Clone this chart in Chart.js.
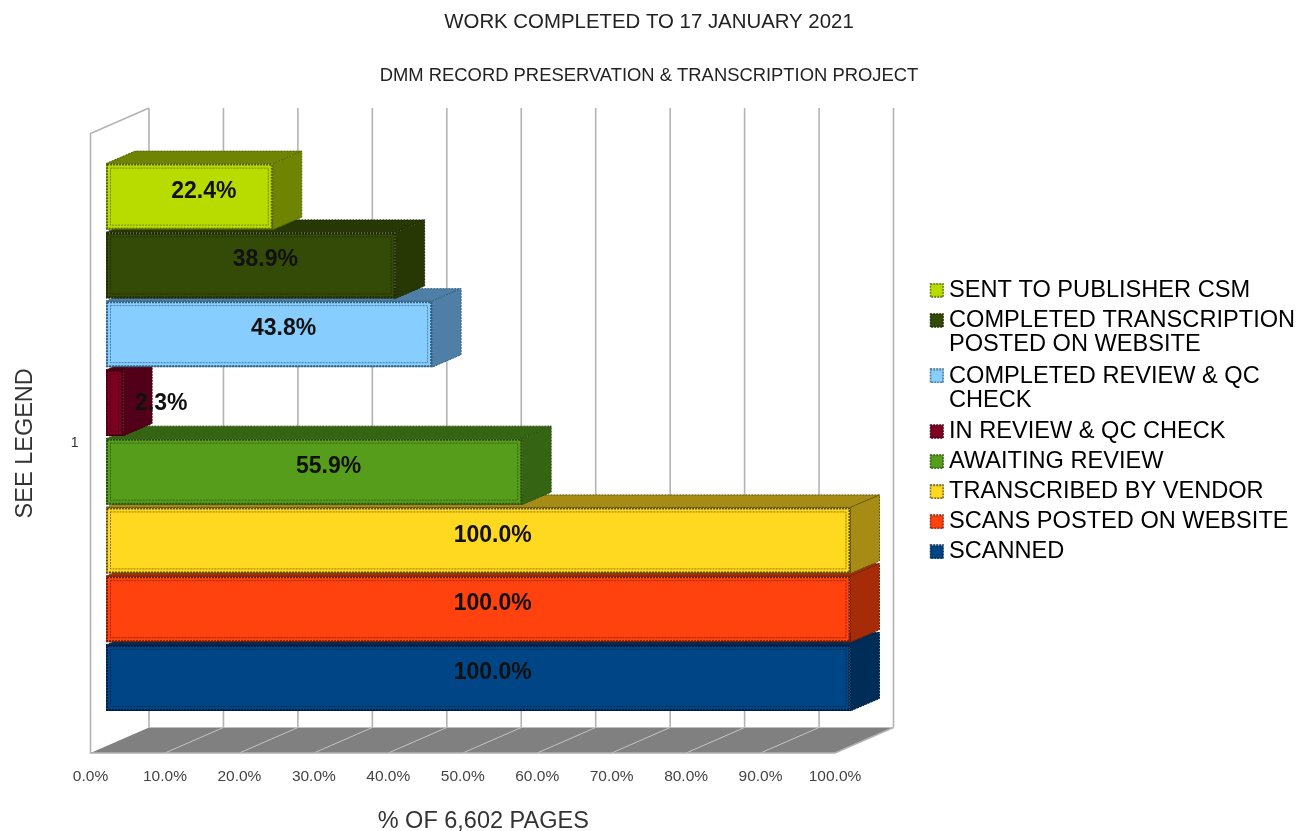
<!DOCTYPE html>
<html>
<head>
<meta charset="utf-8">
<style>html,body{margin:0;padding:0;background:#fff}canvas{display:block}</style>
<script src="https://cdn.jsdelivr.net/npm/chart.js@4"></script>
</head>
<body>
<canvas id="c" width="1298" height="831"></canvas>
<script>
const categories = ['1'];
const seriesNames = ['SENT TO PUBLISHER CSM','COMPLETED TRANSCRIPTION POSTED ON WEBSITE','COMPLETED REVIEW & QC CHECK','IN REVIEW & QC CHECK','AWAITING REVIEW','TRANSCRIBED BY VENDOR','SCANS POSTED ON WEBSITE','SCANNED'];
const legendLines = [['SENT TO PUBLISHER CSM'],['COMPLETED TRANSCRIPTION','POSTED ON WEBSITE'],['COMPLETED REVIEW & QC','CHECK'],['IN REVIEW & QC CHECK'],['AWAITING REVIEW'],['TRANSCRIBED BY VENDOR'],['SCANS POSTED ON WEBSITE'],['SCANNED']];
const seriesValues = [22.4,38.9,43.8,2.3,55.9,100,100,100];
const frontColors = ['#b9dc00','#344a07','#87ceff','#7e0021','#579d1c','#ffd820','#ff420e','#004586'];
const sideColors  = ['#6f8400','#283804','#4f7ea6','#52001a','#356512','#a68c14','#a62c09','#002d57'];
const edgeColors  = ['#55660a','#1c2703','#30607f','#3f0012','#2a5010','#5f5008','#6f1d05','#001f40'];
const titleText = 'WORK COMPLETED TO 17 JANUARY 2021';
const subtitleText = 'DMM RECORD PRESERVATION & TRANSCRIPTION PROJECT';
const xAxisTitle = '% OF 6,602 PAGES';
const yAxisTitle = 'SEE LEGEND';

const FONT = '"Liberation Sans", Arial, sans-serif';
const WALL = {dx:58.5, dy:-25.5};
const BAR_SHIFT = {dx:15.5, dy:-6};
const DEPTH = {dx:29, dy:-12.5};

function swatch(fill, edge){
  const c = document.createElement('canvas'); c.width = 15; c.height = 15;
  const g = c.getContext('2d');
  g.fillStyle = fill; g.fillRect(1,1,13,13);
  g.strokeStyle = edge; g.setLineDash([2,1]); g.lineWidth = 1.5; g.strokeRect(1,1,13,13);
  return c;
}

const scene = {
  id:'scene',
  beforeDatasetsDraw(chart){
    const {ctx, chartArea:a, scales:{x}} = chart;
    ctx.save();
    ctx.fillStyle = '#808080';
    ctx.beginPath();
    ctx.moveTo(a.left,a.bottom); ctx.lineTo(a.left+WALL.dx,a.bottom+WALL.dy);
    ctx.lineTo(a.right+WALL.dx,a.bottom+WALL.dy); ctx.lineTo(a.right,a.bottom); ctx.closePath(); ctx.fill();
    ctx.strokeStyle = '#c4c4c4'; ctx.lineWidth = 1;
    x.ticks.forEach(t=>{
      const p = x.getPixelForValue(t.value);
      if(t.value>0 && t.value<100){
        ctx.beginPath(); ctx.moveTo(p,a.bottom); ctx.lineTo(p+WALL.dx,a.bottom+WALL.dy); ctx.stroke();
      }
    });
    ctx.strokeStyle = '#b3b3b3'; ctx.lineWidth = 1.6;
    x.ticks.forEach(t=>{
      const p = x.getPixelForValue(t.value)+WALL.dx;
      ctx.beginPath(); ctx.moveTo(p,a.top+WALL.dy); ctx.lineTo(p,a.bottom+WALL.dy); ctx.stroke();
    });
    ctx.beginPath();
    ctx.moveTo(a.left+WALL.dx,a.top+WALL.dy); ctx.lineTo(a.left,a.top); ctx.lineTo(a.left,a.bottom); ctx.lineTo(a.right,a.bottom);
    ctx.lineTo(a.right+WALL.dx,a.bottom+WALL.dy);
    ctx.stroke();
    ctx.restore();
  },
  beforeDatasetDraw(chart,args){
    const {ctx} = chart, i = args.index, el = chart.getDatasetMeta(i).data[0];
    const top = el.y-el.height/2, bot = el.y+el.height/2, x = el.x, b = el.base;
    ctx.save();
    ctx.translate(BAR_SHIFT.dx,BAR_SHIFT.dy);
    ctx.lineWidth = 1; ctx.strokeStyle = edgeColors[i]; ctx.setLineDash([2,1]);
    ctx.fillStyle = sideColors[i];
    ctx.beginPath();
    ctx.moveTo(b,top); ctx.lineTo(b+DEPTH.dx,top+DEPTH.dy); ctx.lineTo(x+DEPTH.dx,top+DEPTH.dy); ctx.lineTo(x,top); ctx.closePath();
    ctx.fill(); ctx.stroke();
    ctx.beginPath();
    ctx.moveTo(x,top); ctx.lineTo(x+DEPTH.dx,top+DEPTH.dy); ctx.lineTo(x+DEPTH.dx,bot+DEPTH.dy); ctx.lineTo(x,bot); ctx.closePath();
    ctx.fill(); ctx.stroke();
    ctx.setLineDash([]);
  },
  afterDatasetDraw(chart,args){
    const {ctx} = chart, i = args.index, el = chart.getDatasetMeta(i).data[0];
    const top = el.y-el.height/2, h = el.height, x = el.x, b = el.base;
    ctx.strokeStyle = edgeColors[i]; ctx.setLineDash([2,1]);
    ctx.lineWidth = 2;
    ctx.strokeRect(b+1,top+1,x-b-2,h-2);
    ctx.lineWidth = 1; ctx.globalAlpha = 0.7;
    ctx.strokeRect(b+4.5,top+4.5,Math.max(x-b-9,1),h-9);
    ctx.globalAlpha = 1;
    ctx.setLineDash([]);
    ctx.restore();
  },
  afterDatasetsDraw(chart){
    const {ctx, scales:{x}} = chart;
    ctx.save();
    ctx.fillStyle = '#111'; ctx.font = 'bold 23px '+FONT;
    ctx.textBaseline = 'middle';
    ctx.textAlign = 'left';
    seriesValues.forEach((v,i)=>{
      const el = chart.getDatasetMeta(i).data[0], label = v.toFixed(1)+'%';
      const w = ctx.measureText(label).width, barW = el.x-el.base;
      const inside = barW > w;
      const y = inside ? el.y+BAR_SHIFT.dy+DEPTH.dy/2+1 : el.y+BAR_SHIFT.dy+1;
      const lx = inside
        ? el.base+BAR_SHIFT.dx+DEPTH.dx/2+barW/2-w/2
        : el.base+BAR_SHIFT.dx+DEPTH.dx;
      ctx.fillText(label,lx,y);
    });
    ctx.fillStyle = '#333'; ctx.font = '23.5px '+FONT; ctx.textAlign='center';
    ctx.fillText(xAxisTitle, x.getPixelForValue(50)+20.5, 822);
    ctx.restore();
  },
  beforeDraw(chart){
    const L = chart.legend;
    L.left = 929.7; L.top = 272; L.right = 1298; L.bottom = 600;
    chart.boxes.forEach(b=>{
      if(b.options && (b.options.text===titleText || b.options.text===subtitleText)){ b.left = 0; b.right = 1298; }
    });
  }
};

new Chart(document.getElementById('c'),{
  type:'bar',
  plugins:[scene],
  data:{
    labels:categories,
    datasets:seriesNames.map((n,i)=>({
      label:n,
      data:[seriesValues[i]],
      backgroundColor:frontColors[i],
      borderColor:edgeColors[i],
      borderWidth:1,
      clip:false
    }))
  },
  options:{
    indexAxis:'y',
    responsive:false,
    animation:false,
    devicePixelRatio:1,
    layout:{padding:{left:0,right:463,top:0,bottom:0}},
    datasets:{bar:{categoryPercentage:0.888,barPercentage:0.96}},
    scales:{
      x:{
        min:0,max:100,
        grid:{display:false},border:{display:false},
        ticks:{stepSize:10,autoSkip:false,maxRotation:0,padding:6,color:'#444',font:{family:FONT,size:15.5},callback:v=>v.toFixed(1)+'%'},
        afterFit:s=>{s.height=78;}
      },
      y:{
        grid:{display:false},border:{display:false},
        ticks:{padding:4,color:'#333',font:{family:FONT,size:14}},
        title:{display:true,text:yAxisTitle,color:'#333',font:{family:FONT,size:23.5},padding:{top:11,bottom:0}},
        afterFit:s=>{s.width=90.5;}
      }
    },
    plugins:{
      title:{display:true,text:titleText,color:'#222',font:{family:FONT,size:20.4,weight:'normal'},padding:{top:10,bottom:15}},
      subtitle:{display:true,text:subtitleText,color:'#222',font:{family:FONT,size:18.4,weight:'normal'},padding:{top:15,bottom:47}},
      tooltip:{enabled:false},
      legend:{
        position:'chartArea',
        align:'start',
        labels:{
          color:'#2a2a2a',
          font:{family:FONT,size:23.6,lineHeight:1.04},
          padding:6.5,
          usePointStyle:true,
          boxWidth:1,
          boxHeight:15,
          generateLabels:()=>seriesNames.map((n,i)=>({
            text:legendLines[i].length>1?legendLines[i]:legendLines[i][0],
            pointStyle:swatch(frontColors[i],edgeColors[i]),
            fillStyle:frontColors[i],strokeStyle:edgeColors[i],lineWidth:0,hidden:false,datasetIndex:i
          }))
        }
      }
    }
  }
});
</script>
</body>
</html>
